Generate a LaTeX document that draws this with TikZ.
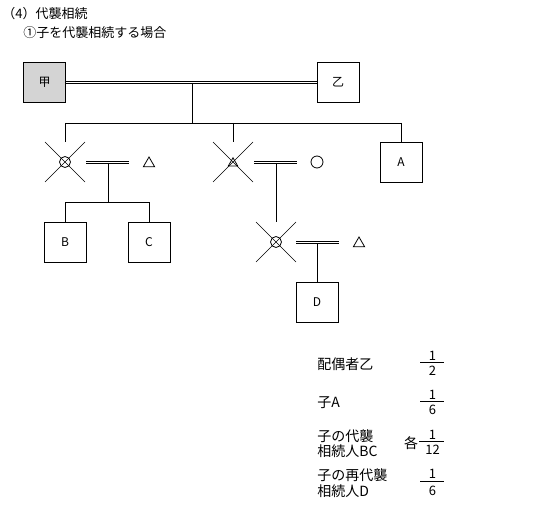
\documentclass[tikz,border=0pt]{standalone}
\usepackage{fontspec}
\setmainfont{Noto Sans CJK JP}
\usetikzlibrary{shapes.geometric}
\begin{document}
\begin{tikzpicture}[x=1pt,y=-1pt,line width=0.8pt,
  box/.style={draw,minimum width=42pt,minimum height=40pt,inner sep=0pt,font=\fontsize{12}{14}\selectfont},
  dead/.style={circle,draw,minimum size=11pt,inner sep=0pt},
  tri/.style={regular polygon,regular polygon sides=3,draw,minimum size=13pt,inner sep=0pt},
  smalltri/.style={regular polygon,regular polygon sides=3,draw,minimum size=11pt,inner sep=0pt},
  xline/.style={line width=0.6pt},
  dl/.style={line width=0.7pt},
  lbl/.style={anchor=west,inner sep=0pt,font=\fontsize{14}{16}\selectfont},
  num/.style={inner sep=0pt,font=\fontsize{13}{15}\selectfont},
  ttl/.style={anchor=west,inner sep=0pt,font=\fontsize{13}{15}\selectfont}]
\useasboundingbox (0,0) rectangle (551,505);
% titles
\node[ttl] (t1) at (2,14) {（4）代襲相続};
\node[ttl] (t2) at (23,33) {①子を代襲相続する場合};
% top generation
\node[box,fill=black!17] (ko) at (44.5,82) {甲};
\node[box] (otsu) at (338,82) {乙};
\draw[dl] ([yshift=1pt]ko.east) -- ([yshift=1pt]otsu.west);
\draw[dl] ([yshift=-1pt]ko.east) -- ([yshift=-1pt]otsu.west);
\coordinate (m1) at (192,83);
\coordinate (m1b) at (192,123);
\draw (m1) -- (m1b);
\coordinate (bl) at (65,123);
\coordinate (bm) at (233,123);
\coordinate (br) at (401,123);
\draw (bl) -- (br);
% children
\node[box] (A) at (401,162) {A};
\draw (br) -- (A.north);
\node[dead] (p1) at (65,162) {};
\coordinate (p1t) at (65,142);
\draw (bl) -- (p1t);
\draw[xline] (45,142) -- (85,182) (45,182) -- (85,142);
\node[smalltri] (p2) at (233,163.3) {};
\coordinate (p2t) at (233,142);
\draw (bm) -- (p2t);
\draw[xline] (213,142) -- (253,182) (213,182) -- (253,142);
% spouse of p1
\coordinate (s1a) at (86,162);
\coordinate (s1b) at (129,162);
\draw[dl] ([yshift=1pt]s1a) -- ([yshift=1pt]s1b);
\draw[dl] ([yshift=-1pt]s1a) -- ([yshift=-1pt]s1b);
\node[tri] (w1) at (149,163.5) {};
\coordinate (s1m) at (108,163);
\coordinate (s1d) at (108,202);
\draw (s1m) -- (s1d);
\coordinate (gl) at (65,202);
\coordinate (gr) at (149,202);
\draw (gl) -- (gr);
\node[box] (B) at (65,242) {B};
\node[box] (C) at (149,242) {C};
\draw (gl) -- (B.north);
\draw (gr) -- (C.north);
% spouse of p2
\coordinate (s2a) at (254,162);
\coordinate (s2b) at (297,162);
\draw[dl] ([yshift=1pt]s2a) -- ([yshift=1pt]s2b);
\draw[dl] ([yshift=-1pt]s2a) -- ([yshift=-1pt]s2b);
\node[circle,draw,minimum size=12pt,inner sep=0pt] (w2) at (317,162) {};
\coordinate (s2m) at (276,163);
\coordinate (s2d) at (276,222);
\draw (s2m) -- (s2d);
% grandchild p3
\node[dead] (p3) at (276,242) {};
\draw[xline] (256,222) -- (296,262) (256,262) -- (296,222);
\coordinate (s3a) at (296,242);
\coordinate (s3b) at (339,242);
\draw[dl] ([yshift=1pt]s3a) -- ([yshift=1pt]s3b);
\draw[dl] ([yshift=-1pt]s3a) -- ([yshift=-1pt]s3b);
\node[tri] (w3) at (359,243.5) {};
\node[box] (D) at (317,302) {D};
\coordinate (s3m) at (317,243);
\draw (s3m) -- (D.north);
% table
\node[lbl] (r1) at (317,364) {配偶者乙};
\node[num] (n1) at (432.5,356) {1};
\node[num] (d1) at (432.5,371) {2};
\draw[dl] (420,362.3) -- (444,362.3);
\node[lbl] (r2) at (317,402.5) {子A};
\node[num] (n2) at (432.5,395) {1};
\node[num] (d2) at (432.5,410) {6};
\draw[dl] (420,401.3) -- (444,401.3);
\node[lbl] (r3a) at (317,436.5) {子の代襲};
\node[lbl] (r3b) at (317,451) {相続人BC};
\node[inner sep=0pt,font=\fontsize{14}{16}\selectfont] (kaku) at (411,443.5) {各};
\node[num] (n3) at (432.5,434.5) {1};
\node[num] (d3) at (432.5,450) {12};
\draw[dl] (419,441.7) -- (444,441.7);
\node[lbl] (r4a) at (317,475) {子の再代襲};
\node[lbl] (r4b) at (317,491.5) {相続人D};
\node[num] (n4) at (432.5,474) {1};
\node[num] (d4) at (432.5,490.5) {6};
\draw[dl] (420,481.7) -- (444,481.7);
\end{tikzpicture}
\end{document}
